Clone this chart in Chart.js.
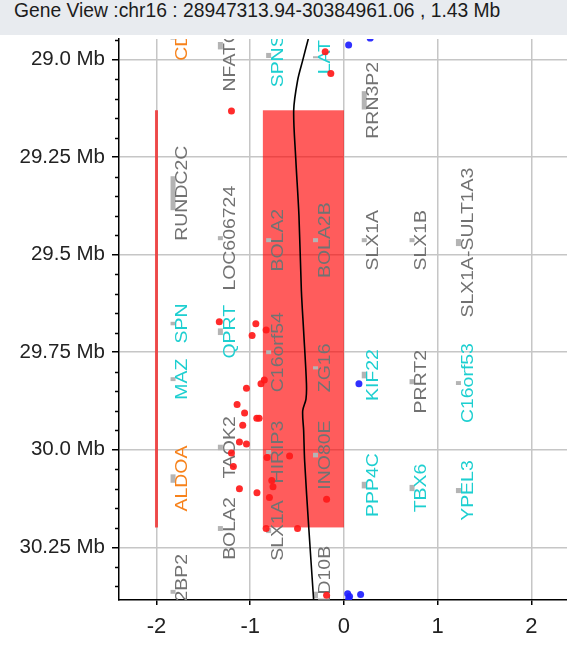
<!DOCTYPE html>
<html>
<head>
<meta charset="utf-8">
<script src="https://cdn.jsdelivr.net/npm/chart.js@4/dist/chart.umd.min.js"></script>
<style>
    body { margin: 0; background: #fff; width: 567px; overflow: hidden; }
    #header {
        height: 35px;
        line-height: 35px;
        background: #e8ebef;
        color: #1c1c1c;
        font: 19.3px "Liberation Sans", Arial, sans-serif;
        padding-left: 14px;
        white-space: nowrap;
    }
    #wrap { width: 567px; height: 614px; }
    canvas { display: block; }
</style>
</head>
<body>
<div id="header">Gene View :chr16 : 28947313.94-30384961.06 , 1.43 Mb</div>
<div id="wrap"><canvas id="geneChart" width="567" height="614"></canvas></div>
<script>
// Axis ranges / ticks
const yMinMb = 28.94731394;
const yMaxMb = 30.38496106;
const yTickValues = [29.0, 29.25, 29.5, 29.75, 30.0, 30.25];
const yTickLabels = ['29.0 Mb', '29.25 Mb', '29.5 Mb', '29.75 Mb', '30.0 Mb', '30.25 Mb'];
const yMinorTicks = [28.95, 29.05, 29.1, 29.15, 29.2, 29.3, 29.35, 29.4, 29.45, 29.55, 29.6, 29.65, 29.7,
                     29.8, 29.85, 29.9, 29.95, 30.05, 30.1, 30.15, 30.2, 30.3, 30.35];
const xTickValues = [-2, -1, 0, 1, 2];
const xTickLabels = ['-2', '-1', '0', '1', '2'];

// Highlighted region
const regionX = [-0.865, 0];
const regionMb = [29.130, 30.199];
const regionLineX = -2;

// Black trend curve
const curveMb  = [28.943, 29.002, 29.053, 29.130, 29.250, 29.400, 29.593, 29.696, 29.830, 29.870, 29.900, 29.950, 30.030, 30.197, 30.386];
const curveVal = [-0.376, -0.440, -0.494, -0.536, -0.515, -0.480, -0.454, -0.430, -0.400, -0.405, -0.440, -0.430, -0.419, -0.376, -0.323];

// Red points
const redVal = [-1.2, -0.2, -0.14, -1.33, -0.94, -0.98, -0.83, -0.85, -0.885, -1.04, -1.14, -1.06, -0.93, -0.905, -1.08,
                -1.115, -1.04, -1.2, -0.82, -0.58, -1.18, -0.77, -0.757, -1.115, -0.928, -0.795, -0.185, -0.83, -0.495, -0.185];
const redMb  = [29.132, 28.98, 29.036, 29.672, 29.677, 29.707, 29.693, 29.821, 29.831, 29.842, 29.884, 29.906, 29.919, 29.919, 29.937,
                29.98, 29.985, 30.008, 30.02, 30.016, 30.043, 30.079, 30.095, 30.1, 30.11, 30.122, 30.127, 30.202, 30.202, 30.373];

// Blue points
const blueVal = [0.05, 0.28, 0.16, 0.04, 0.05, 0.06, 0.178];
const blueMb  = [28.963, 28.945, 29.831, 30.369, 30.382, 30.376, 30.371];

// Genes
const geneNames = ['CD19', 'NFATC2IP', 'SPNS1', 'LAT', 'RRN3P2', 'RUNDC2C', 'LOC606724', 'BOLA2', 'BOLA2B', 'SLX1A', 'SLX1B',
                   'SLX1A-SULT1A3', 'SPN', 'QPRT', 'C16orf54', 'ZG16', 'MAZ', 'KIF22', 'PRRT2', 'C16orf53', 'TAOK2', 'HIRIP3',
                   'INO80E', 'ALDOA', 'PPP4C', 'TBX6', 'YPEL3', 'BOLA2', 'SLX1A', 'CD2BP2', 'TBC1D10B'];
const geneCol   = [-1.85, -1.345, -0.83, -0.33, 0.19, -1.85, -1.345, -0.83, -0.33, 0.19, 0.70,
                   1.195, -1.85, -1.345, -0.83, -0.33, -1.85, 0.19, 0.70, 1.195, -1.345, -0.83,
                   -0.33, -1.85, 0.19, 0.70, 1.195, -1.345, -0.83, -1.85, -0.33];
const geneStart = [28.930, 28.955, 28.983, 28.9915, 29.081, 29.299, 29.4526, 29.4577, 29.4577, 29.4577, 29.4577,
                   29.460, 29.672, 29.689, 29.745, 29.786, 29.814, 29.800, 29.819, 29.824, 29.987, 30.0008,
                   30.0077, 30.063, 30.082, 30.090, 30.098, 30.1955, 30.2005, 30.359, 30.3637];
const geneEnd   = [28.949, 28.974, 28.996, 28.9967, 29.128, 29.386, 29.463, 29.468, 29.468, 29.468, 29.468,
                   29.478, 29.681, 29.706, 29.755, 29.794, 29.824, 29.817, 29.832, 29.834, 30.001, 30.011,
                   30.0195, 30.0845, 30.099, 30.106, 30.111, 30.208, 30.2135, 30.369, 30.3807];
const geneType  = ['orange', 'gray', 'cyan', 'cyan', 'gray', 'gray', 'gray', 'gray', 'gray', 'gray', 'gray',
                   'gray', 'cyan', 'cyan', 'gray', 'gray', 'cyan', 'cyan', 'gray', 'cyan', 'gray', 'gray',
                   'gray', 'orange', 'cyan', 'cyan', 'cyan', 'gray', 'gray', 'gray', 'gray'];

const typeColors = { orange: '#f7821b', cyan: '#1dcfd0', gray: '#727272' };
const FONT = '"Liberation Sans", Arial, sans-serif';

// Region box + gene marks/labels, drawn under the datasets
const genePlugin = {
    id: 'genes',
    beforeDatasetsDraw(chart) {
        const { ctx, chartArea, scales } = chart;
        const x = scales.x, y = scales.y;
        ctx.save();
        ctx.beginPath();
        ctx.rect(chartArea.left, chartArea.top, chartArea.right - chartArea.left, chartArea.bottom - chartArea.top);
        ctx.clip();

        // region
        const rx0 = x.getPixelForValue(regionX[0]), rx1 = x.getPixelForValue(regionX[1]);
        const ry0 = y.getPixelForValue(regionMb[0]), ry1 = y.getPixelForValue(regionMb[1]);
        ctx.fillStyle = 'rgba(255, 0, 0, 0.64)';
        ctx.fillRect(rx0, ry0, rx1 - rx0, ry1 - ry0);

        // genes
        geneNames.forEach((name, i) => {
            const px = x.getPixelForValue(geneCol[i]);
            const py0 = y.getPixelForValue(geneStart[i]);
            const py1 = y.getPixelForValue(geneEnd[i]);
            ctx.fillStyle = '#b4b4b4';
            ctx.fillRect(px, py0, 5, Math.max(2, py1 - py0));

            ctx.save();
            ctx.translate(px + 12, (py0 + py1) / 2);
            ctx.rotate(-Math.PI / 2);
            ctx.scale(1.08, 0.95);
            ctx.font = '18px ' + FONT;
            ctx.fillStyle = typeColors[geneType[i]];
            ctx.textAlign = 'center';
            ctx.textBaseline = 'middle';
            ctx.fillText(name, 0, 0);
            ctx.restore();
        });
        ctx.restore();
    },
    afterDraw(chart) {
        // minor ticks on the Mb axis
        const { ctx, chartArea, scales } = chart;
        ctx.save();
        ctx.strokeStyle = '#000';
        ctx.lineWidth = 1.5;
        yMinorTicks.forEach(v => {
            const py = Math.round(scales.y.getPixelForValue(v)) + 0.5;
            ctx.beginPath();
            ctx.moveTo(chartArea.left - 4, py);
            ctx.lineTo(chartArea.left, py);
            ctx.stroke();
        });
        ctx.restore();
    }
};

function noPad(s) {
    s.paddingTop = 0;
    s.paddingBottom = 0;
    s.paddingLeft = 0;
    s.paddingRight = 0;
}

function initChart() {
    const ctx = document.getElementById('geneChart').getContext('2d');

    new Chart(ctx, {
        type: 'scatter',
        data: {
            datasets: [
                {
                    label: 'trend',
                    data: curveMb.map((m, i) => ({ x: curveVal[i], y: m })),
                    showLine: true,
                    borderColor: '#000',
                    borderWidth: 1.6,
                    tension: 0.3,
                    pointRadius: 0,
                    clip: 0,
                    order: 1
                },
                {
                    label: 'red',
                    data: redMb.map((m, i) => ({ x: redVal[i], y: m })),
                    backgroundColor: 'rgba(255, 25, 25, 0.92)',
                    borderWidth: 0,
                    pointRadius: 3.5,
                    clip: 0,
                    order: 2
                },
                {
                    label: 'blue',
                    data: blueMb.map((m, i) => ({ x: blueVal[i], y: m })),
                    backgroundColor: 'rgba(30, 30, 255, 0.92)',
                    borderWidth: 0,
                    pointRadius: 3.5,
                    clip: 0,
                    order: 2
                },
                {
                    label: 'region line',
                    data: regionMb.map(m => ({ x: regionLineX, y: m })),
                    showLine: true,
                    borderColor: 'rgba(240, 50, 50, 0.85)',
                    borderWidth: 3,
                    pointRadius: 0,
                    clip: 0,
                    order: 3
                }
            ]
        },
        options: {
            responsive: false,
            animation: false,
            layout: { autoPadding: false, padding: { top: 4, left: 0, right: 0, bottom: 0 } },
            plugins: {
                legend: { display: false },
                tooltip: { enabled: false },
                title: { display: false }
            },
            scales: {
                x: {
                    type: 'linear',
                    min: -2.4,
                    max: 2.38,
                    afterBuildTicks: s => { s.ticks = xTickValues.map(v => ({ value: v })); },
                    afterFit: s => { s.height = 49; noPad(s); },
                    grid: { color: '#c6c6c6', lineWidth: 1.5, tickLength: 5, tickColor: '#000' },
                    border: { color: '#000', width: 1.5 },
                    ticks: {
                        color: '#222',
                        font: { family: FONT, size: 22 },
                        padding: 9,
                        maxRotation: 0,
                        callback: (v, i) => xTickLabels[i]
                    }
                },
                y: {
                    type: 'linear',
                    reverse: true,
                    min: yMinMb,
                    max: yMaxMb,
                    afterBuildTicks: s => { s.ticks = yTickValues.map(v => ({ value: v })); },
                    afterFit: s => { s.width = 119; noPad(s); },
                    grid: { color: '#c6c6c6', lineWidth: 1.5, tickLength: 7, tickColor: '#000' },
                    border: { color: '#000', width: 1.5 },
                    ticks: {
                        color: '#222',
                        font: { family: FONT, size: 20.5 },
                        padding: 7,
                        callback: (v, i) => yTickLabels[i]
                    }
                }
            }
        },
        plugins: [genePlugin]
    });
}

document.addEventListener('DOMContentLoaded', initChart);
</script>
</body>
</html>
